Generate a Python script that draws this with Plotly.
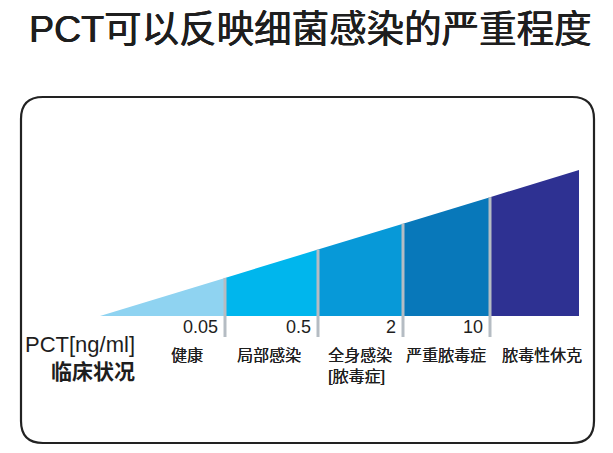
import plotly.graph_objects as go

# ---- data ----
title_text = "PCT可以反映细菌感染的严重程度"
stages = ["健康", "局部感染", "全身感染<br>[脓毒症]", "严重脓毒症", "脓毒性休克"]
thresholds = ["0.05", "0.5", "2", "10"]
stage_colors = ["#8fd3f1", "#00b6ed", "#0799d8", "#0878ba", "#2e3192"]
row_labels = ["PCT[ng/ml]", "临床状况"]

# ---- layout constants (diagram coordinates = window pixels) ----
W, H = 613, 453
PAGE_MARGIN = 8          # default body margin of the page
edges = [100, 225, 318, 403, 490, 579]   # segment boundaries along the wedge
base_y = 316
top_right_y = 170
tick_bottom = 337
slope = (base_y - top_right_y) / (edges[-1] - edges[0])


def top(x):
    return base_y - slope * (x - edges[0])


CJK = "Liberation Sans, Noto Sans CJK SC, sans-serif"
INK = "#1e1e1e"

fig = go.Figure()

for i, name in enumerate(stages):
    x0, x1 = edges[i], edges[i + 1]
    fig.add_trace(go.Scatter(
        x=[x0, x0, x1, x1, x0],
        y=[base_y, top(x0), top(x1), base_y, base_y],
        fill="toself", fillcolor=stage_colors[i],
        mode="lines", line=dict(width=0, color=stage_colors[i]),
        hoverinfo="text", text=name.replace("<br>", " "), showlegend=False,
    ))

shapes = []
# separators between stages
for i, t in enumerate(thresholds):
    x = edges[i + 1]
    shapes.append(dict(type="line", xref="x", yref="y", x0=x, x1=x,
                       y0=top(x), y1=tick_bottom,
                       line=dict(color="#b5bcc3", width=3)))

# rounded frame
L, R, T, B, r = 21, 594, 97, 443, 22
path = (f"M {L+r},{T} L {R-r},{T} Q {R},{T} {R},{T+r} L {R},{B-r} "
        f"Q {R},{B} {R-r},{B} L {L+r},{B} Q {L},{B} {L},{B-r} "
        f"L {L},{T+r} Q {L},{T} {L+r},{T} Z")
shapes.append(dict(type="path", xref="x", yref="y", path=path,
                   line=dict(color="#222222", width=2.2), fillcolor="rgba(0,0,0,0)"))

annotations = []
# title
annotations.append(dict(x=310, y=29, xref="x", yref="y", text=title_text,
                        showarrow=False, xanchor="center", yanchor="middle",
                        font=dict(family=CJK, size=37.5, color=INK,
                                  shadow=f"0.6px 0 0 {INK}, -0.3px 0 0 {INK}")))
# threshold labels
for i, t in enumerate(thresholds):
    annotations.append(dict(x=edges[i + 1] - 5, y=327, xref="x", yref="y", text=t,
                            showarrow=False, xanchor="right", yanchor="middle",
                            font=dict(family=CJK, size=18, color=INK)))
# stage labels
stage_centers = [187, 269, 355, 446, 542]
for i, s in enumerate(stages):
    f = dict(family=CJK, size=16, color=INK, shadow=f"0.3px 0 0 {INK}")
    if "<br>" in s:
        annotations.append(dict(x=stage_centers[i] - 29, y=345, xref="x", yref="y", text=s,
                                showarrow=False, xanchor="left", yanchor="top", align="left",
                                font=f))
    else:
        annotations.append(dict(x=stage_centers[i], y=355, xref="x", yref="y", text=s,
                                showarrow=False, xanchor="center", yanchor="middle",
                                font=f))
# row labels
annotations.append(dict(x=137, y=344, xref="x", yref="y", text=row_labels[0],
                        showarrow=False, xanchor="right", yanchor="middle",
                        font=dict(family=CJK, size=22, color=INK)))
annotations.append(dict(x=137, y=371, xref="x", yref="y", text="<b>" + row_labels[1] + "</b>",
                        showarrow=False, xanchor="right", yanchor="middle",
                        font=dict(family=CJK, size=21, color=INK)))

fig.update_layout(
    width=W - 2 * PAGE_MARGIN, height=H - 2 * PAGE_MARGIN, autosize=False,
    margin=dict(l=0, r=0, t=0, b=0),
    paper_bgcolor="white", plot_bgcolor="white",
    xaxis=dict(range=[PAGE_MARGIN, W - PAGE_MARGIN], visible=False, fixedrange=True),
    yaxis=dict(range=[H - PAGE_MARGIN, PAGE_MARGIN], visible=False, fixedrange=True),
    shapes=shapes, annotations=annotations, showlegend=False,
)

fig.write_html("out.html")
